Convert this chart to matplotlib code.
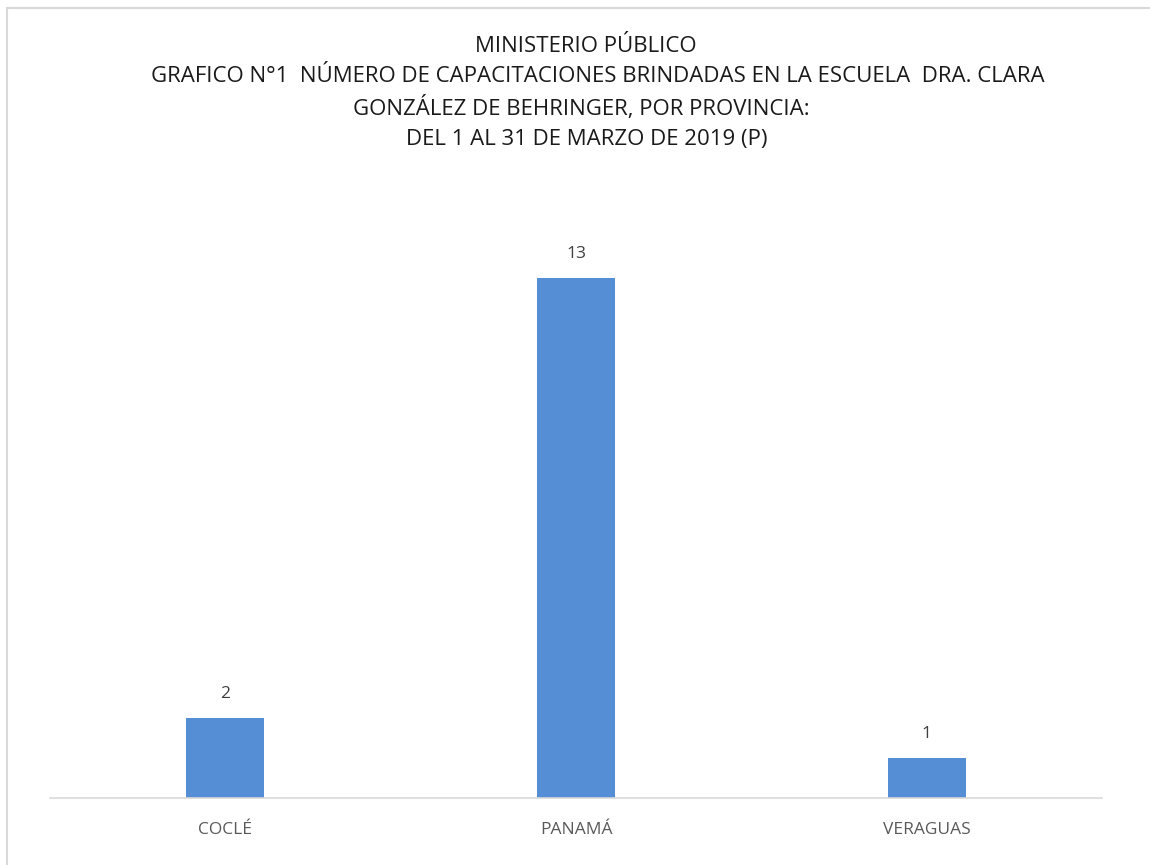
import matplotlib.pyplot as plt
from matplotlib.patches import Rectangle

categories = ["COCLÉ", "PANAMÁ", "VERAGUAS"]
values = [2, 13, 1]
title_lines = [
    "MINISTERIO PÚBLICO",
    "GRAFICO N°1  NÚMERO DE CAPACITACIONES BRINDADAS EN LA ESCUELA  DRA. CLARA",
    "GONZÁLEZ DE BEHRINGER, POR PROVINCIA:",
    "DEL 1 AL 31 DE MARZO DE 2019 (P)",
]

plt.rcParams['font.family'] = ['Open Sans', 'DejaVu Sans']
W, H = 1150, 865
fig = plt.figure(figsize=(W / 100, H / 100), dpi=100)
fig.patch.set_facecolor('white')

# chart border (top & left visible)
fig.add_artist(Rectangle((7 / W, -0.1), 1.2, (H - 8) / H + 0.1, transform=fig.transFigure,
                         fill=False, edgecolor='#d9d9d9', linewidth=1.5))

ax = fig.add_axes([50 / W, (H - 798) / H, 1052 / W, 560 / H])
x = list(range(len(categories)))
bars = ax.bar(x, values, width=0.222, color='#558ed5')
ax.set_xlim(-0.5, len(categories) - 0.5)
ax.set_ylim(0, 14)
for s in ['top', 'right', 'left']:
    ax.spines[s].set_visible(False)
ax.spines['bottom'].set_color('#d9d9d9')
ax.spines['bottom'].set_linewidth(1.2)
ax.set_yticks([])
ax.set_xticks(x)
ax.set_xticklabels(categories, fontsize=12.5, color='#595959')
ax.tick_params(axis='x', length=0, pad=17)
for xi, v in zip(x, values):
    ax.annotate(str(v), (xi, v), xytext=(0, 17), textcoords='offset points',
                ha='center', va='center', fontsize=12.5, color='#404040')

ys = [46, 77, 108, 139]
xs = [586, 598, 581, 587]
for line, xc, y in zip(title_lines, xs, ys):
    fig.text(xc / W, 1 - y / H, line, ha='center', va='center', fontsize=16, color='#1a1a1a')

fig.savefig('out.png', dpi=100)
